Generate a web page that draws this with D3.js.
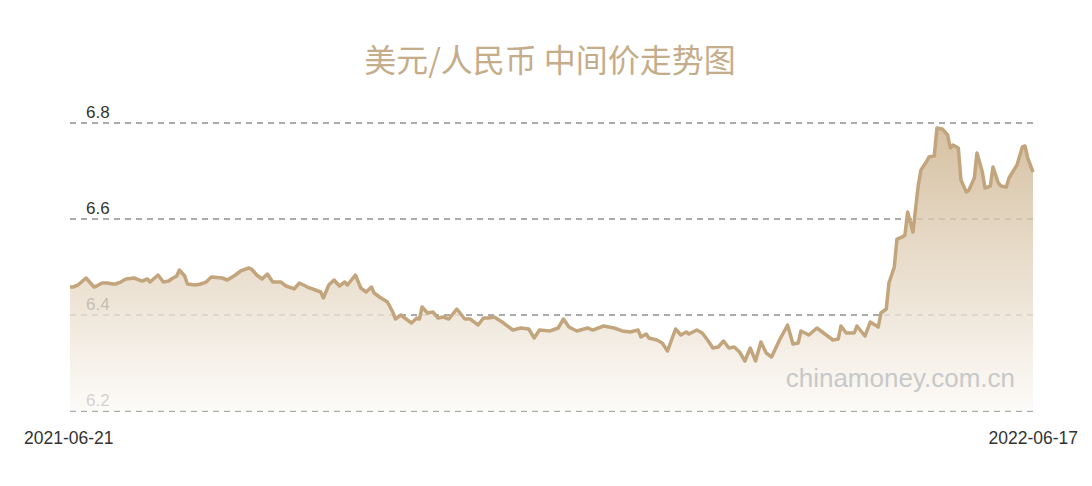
<!DOCTYPE html>
<html>
<head>
<meta charset="utf-8">
<script src="https://cdn.jsdelivr.net/npm/d3@7"></script>
<style>
  html, body { margin: 0; padding: 0; background: #fff; }
</style>
</head>
<body>
<svg id="chart" width="1092" height="486"></svg>
<script>
const title = '美元/人民币 中间价走势图';
const watermark = 'chinamoney.com.cn';
const yTicks = [6.2, 6.4, 6.6, 6.8];
const xLabels = ['2021-06-21', '2022-06-17'];

const dates = [
  '2021-06-21','2021-06-22','2021-06-24','2021-06-27','2021-06-28','2021-06-30',
  '2021-07-01','2021-07-03','2021-07-05','2021-07-07','2021-07-08','2021-07-10',
  '2021-07-12','2021-07-15','2021-07-18','2021-07-20','2021-07-21','2021-07-24',
  '2021-07-26','2021-07-28','2021-07-29','2021-07-31','2021-08-01','2021-08-03',
  '2021-08-04','2021-08-07','2021-08-09','2021-08-11','2021-08-13','2021-08-17',
  '2021-08-19','2021-08-22','2021-08-24','2021-08-27','2021-08-28','2021-08-30',
  '2021-09-01','2021-09-03','2021-09-05','2021-09-08','2021-09-10','2021-09-13',
  '2021-09-15','2021-09-18','2021-09-21','2021-09-23','2021-09-24','2021-09-26',
  '2021-09-28','2021-09-30','2021-10-02','2021-10-03','2021-10-06','2021-10-08',
  '2021-10-10','2021-10-12','2021-10-13','2021-10-15','2021-10-18','2021-10-20',
  '2021-10-21','2021-10-23','2021-10-25','2021-10-27','2021-10-29','2021-10-30',
  '2021-10-31','2021-11-02','2021-11-04','2021-11-06','2021-11-08','2021-11-10',
  '2021-11-13','2021-11-16','2021-11-18','2021-11-21','2021-11-23','2021-11-25',
  '2021-11-27','2021-11-30','2021-12-04','2021-12-07','2021-12-10','2021-12-12',
  '2021-12-14','2021-12-18','2021-12-21','2021-12-23','2021-12-25','2021-12-28',
  '2022-01-01','2022-01-03','2022-01-07','2022-01-11','2022-01-14','2022-01-17',
  '2022-01-20','2022-01-21','2022-01-23','2022-01-24','2022-01-27','2022-01-29',
  '2022-01-31','2022-02-03','2022-02-05','2022-02-07','2022-02-08','2022-02-11',
  '2022-02-13','2022-02-15','2022-02-17','2022-02-19','2022-02-21','2022-02-23',
  '2022-02-25','2022-02-27','2022-03-01','2022-03-03','2022-03-05','2022-03-07',
  '2022-03-09','2022-03-11','2022-03-14','2022-03-17','2022-03-19','2022-03-21',
  '2022-03-22','2022-03-25','2022-03-28','2022-03-30','2022-04-03','2022-04-05',
  '2022-04-06','2022-04-08','2022-04-11','2022-04-12','2022-04-15','2022-04-17',
  '2022-04-20','2022-04-21','2022-04-23','2022-04-24','2022-04-26','2022-04-27',
  '2022-04-29','2022-04-30','2022-05-01','2022-05-03','2022-05-05','2022-05-06',
  '2022-05-08','2022-05-09','2022-05-11','2022-05-12','2022-05-14','2022-05-16',
  '2022-05-17','2022-05-18','2022-05-20','2022-05-21','2022-05-23','2022-05-24',
  '2022-05-26','2022-05-27','2022-05-29','2022-05-30','2022-06-01','2022-06-02',
  '2022-06-04','2022-06-05','2022-06-07','2022-06-08','2022-06-11','2022-06-13',
  '2022-06-14','2022-06-15','2022-06-17'
];

const rates = [
  6.4583, 6.4583, 6.4625, 6.4771, 6.4708, 6.4583,
  6.4604, 6.4667, 6.4667, 6.4646, 6.4646, 6.4687,
  6.4750, 6.4771, 6.4708, 6.4750, 6.4687, 6.4833,
  6.4687, 6.4708, 6.4750, 6.4812, 6.4937, 6.4812,
  6.4646, 6.4625, 6.4646, 6.4687, 6.4792, 6.4771,
  6.4729, 6.4833, 6.4917, 6.4979, 6.4958, 6.4833,
  6.4750, 6.4854, 6.4687, 6.4687, 6.4604, 6.4542,
  6.4667, 6.4583, 6.4521, 6.4479, 6.4354, 6.4625,
  6.4729, 6.4604, 6.4687, 6.4625, 6.4833, 6.4562,
  6.4479, 6.4583, 6.4458, 6.4375, 6.4271, 6.4062,
  6.3917, 6.4000, 6.3917, 6.3833, 6.3937, 6.3917,
  6.4167, 6.4042, 6.4062, 6.3937, 6.3958, 6.3917,
  6.4125, 6.3917, 6.3917, 6.3792, 6.3937, 6.3937,
  6.3958, 6.3854, 6.3687, 6.3729, 6.3708, 6.3521,
  6.3687, 6.3667, 6.3729, 6.3917, 6.3750, 6.3667,
  6.3729, 6.3687, 6.3771, 6.3729, 6.3667, 6.3646,
  6.3687, 6.3542, 6.3604, 6.3521, 6.3479, 6.3417,
  6.3250, 6.3708, 6.3583, 6.3646, 6.3604, 6.3687,
  6.3625, 6.3479, 6.3312, 6.3333, 6.3458, 6.3312,
  6.3333, 6.3229, 6.3042, 6.3312, 6.3042, 6.3437,
  6.3208, 6.3125, 6.3479, 6.3792, 6.3396, 6.3417,
  6.3667, 6.3583, 6.3729, 6.3646, 6.3479, 6.3500,
  6.3771, 6.3625, 6.3625, 6.3771, 6.3562, 6.3854,
  6.3750, 6.4042, 6.4125, 6.4667, 6.5000, 6.5583,
  6.5625, 6.5667, 6.6146, 6.5729, 6.6708, 6.7021,
  6.7187, 6.7292, 6.7312, 6.7896, 6.7875, 6.7750,
  6.7479, 6.7542, 6.7479, 6.6812, 6.6562, 6.6604,
  6.6854, 6.7375, 6.6979, 6.6646, 6.6687, 6.7083,
  6.6750, 6.6687, 6.6667, 6.6854, 6.7125, 6.7500,
  6.7521, 6.7271, 6.6979
];

const svg = d3.select('#chart');
const plotL = 70, plotR = 1033, plotT = 123, plotB = 411;

const parse = d3.timeParse('%Y-%m-%d');
const data = dates.map(function(d, i) { return { date: parse(d), value: rates[i] }; });

const x = d3.scaleTime()
            .domain([parse(xLabels[0]), parse(xLabels[1])])
            .range([plotL, plotR]);
const y = d3.scaleLinear()
            .domain([6.2, 6.8])
            .range([plotB, plotT]);

// gradient for the area
const defs = svg.append('defs');
const grad = defs.append('linearGradient')
                 .attr('id', 'areaGrad')
                 .attr('x1', 0).attr('y1', 0)
                 .attr('x2', 0).attr('y2', 1);
grad.append('stop').attr('offset', '0%').attr('stop-color', 'rgb(204,178,140)').attr('stop-opacity', 0.8);
grad.append('stop').attr('offset', '100%').attr('stop-color', 'rgb(252,250,247)').attr('stop-opacity', 0.8);

// title
svg.append('text')
   .attr('x', 550)
   .attr('y', 72)
   .attr('text-anchor', 'middle')
   .style('font-family', '"Noto Sans CJK SC", sans-serif')
   .style('font-size', '32px')
   .style('fill', '#c5ad8b')
   .text(title);

// grid lines + y labels (the area is drawn over them)
svg.append('g')
   .selectAll('line')
   .data(yTicks)
   .join('line')
   .attr('x1', plotL).attr('x2', plotR)
   .attr('y1', function(d) { return y(d); })
   .attr('y2', function(d) { return y(d); })
   .style('stroke', '#8f8f8f')
   .style('stroke-width', '1.5px')
   .attr('stroke-dasharray', '6 5');

svg.append('g')
   .selectAll('text')
   .data(yTicks)
   .join('text')
   .attr('x', 86)
   .attr('y', function(d) { return y(d) - 5; })
   .style('font-family', '"Liberation Sans", Arial, sans-serif')
   .style('font-size', '17px')
   .style('fill', '#333')
   .text(function(d) { return d.toFixed(1); });

// area + line
const areaGen = d3.area()
                  .x(function(d) { return x(d.date); })
                  .y0(plotB)
                  .y1(function(d) { return y(d.value); });
const lineGen = d3.line()
                  .x(function(d) { return x(d.date); })
                  .y(function(d) { return y(d.value); });

svg.append('path')
   .attr('d', areaGen(data))
   .style('fill', 'url(#areaGrad)');

svg.append('path')
   .attr('d', lineGen(data))
   .style('fill', 'none')
   .style('stroke', '#c3a57d')
   .style('stroke-width', '3.5px')
   .style('stroke-linejoin', 'round');

// watermark
svg.append('text')
   .attr('x', 1015)
   .attr('y', 387)
   .attr('text-anchor', 'end')
   .style('font-family', '"Liberation Sans", Arial, sans-serif')
   .style('font-size', '26px')
   .style('fill', '#c8c8c8')
   .text(watermark);

// x labels
svg.append('text')
   .attr('x', 24)
   .attr('y', 444)
   .style('font-family', '"Liberation Sans", Arial, sans-serif')
   .style('font-size', '17.5px')
   .style('fill', '#333')
   .text(xLabels[0]);
svg.append('text')
   .attr('x', 1078)
   .attr('y', 444)
   .attr('text-anchor', 'end')
   .style('font-family', '"Liberation Sans", Arial, sans-serif')
   .style('font-size', '17.5px')
   .style('fill', '#333')
   .text(xLabels[1]);
</script>
</body>
</html>
